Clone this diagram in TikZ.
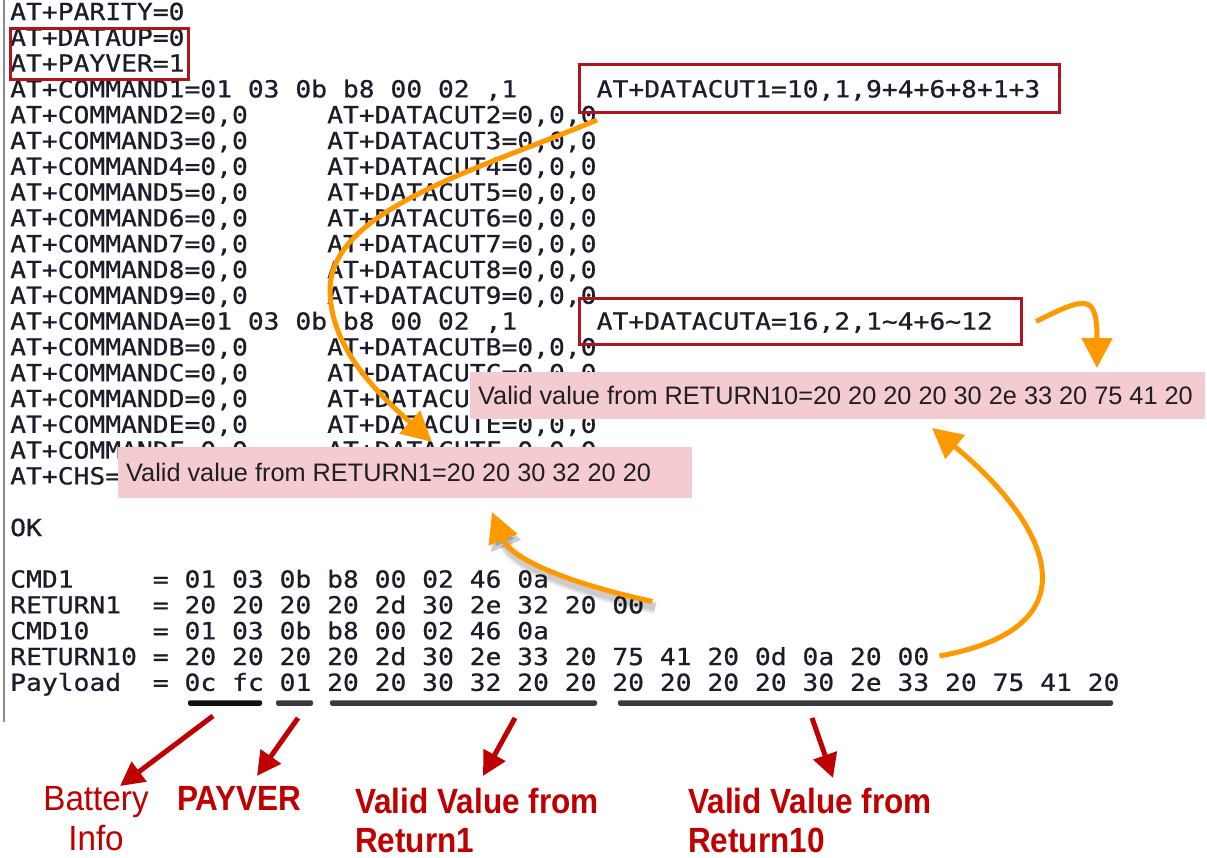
\documentclass[tikz,border=0pt]{standalone}
\usepackage{fontspec}
\usetikzlibrary{arrows.meta}
\newfontfamily\termfont[FakeStretch=1.12,FakeBold=0.7]{DejaVu Sans Mono}
\newfontfamily\notefont{Liberation Sans}
\newfontfamily\tagfont[FakeStretch=0.9]{Liberation Sans}
\newfontfamily\tagplainfont[FakeStretch=0.95]{Liberation Sans}
\definecolor{ink}{HTML}{1C1C2A}
\definecolor{boxred}{HTML}{B0141C}
\definecolor{pinkfill}{HTML}{F3CBD0}
\definecolor{flowor}{HTML}{FF9900}
\definecolor{tagred}{HTML}{C00000}
\definecolor{edgegray}{HTML}{8A8A8A}
\definecolor{barblack}{HTML}{111111}
\definecolor{bargray}{HTML}{3A3A3A}
\begin{document}
\begin{tikzpicture}[x=1pt,y=-1pt,
  term/.style={font={\termfont\fontsize{23.5}{25.8}\selectfont}, text=ink, anchor=base west, inner sep=0pt},
  note/.style={font={\notefont\fontsize{25.3}{28}\selectfont}, text=black!88, anchor=west, inner sep=0pt},
  notebox/.style={fill=pinkfill, draw=none, inner sep=0pt, anchor=north west},
  hilite/.style={draw=boxred, line width=3pt, inner sep=0pt, anchor=north west},
  tag/.style={font={\tagfont\bfseries\fontsize{35}{38.5}\selectfont}, text=tagred, inner sep=0pt},
  plaintag/.style={font={\tagplainfont\fontsize{35}{40}\selectfont}, text=tagred, inner sep=0pt},
  bar/.style={minimum height=5.5pt, inner sep=0pt, rounded corners=2pt},
  flow/.style={draw=flowor, line width=5pt, -{Triangle[length=30pt,width=30pt]}},
  flowshade/.style={draw=black, line width=#1, opacity=0.07, -{Triangle[length=30pt,width=30pt]}},
  pointer/.style={draw=tagred, line width=5pt, -{Triangle[length=24pt,width=24pt]}}]
\useasboundingbox[fill=white] (0,0) rectangle (1207,857);

% left edge of the terminal window
\draw[edgegray, line width=2pt] (3.5,0) -- (3.5,722);

% configuration listing
\node[term] (p0) at (10,20) {AT+PARITY=0};
\node[term] (p1) at (10,45.8) {AT+DATAUP=0};
\node[term] (p2) at (10,71.6) {AT+PAYVER=1};
\node[term] (c1) at (10,97.4) {AT+COMMAND1=01 03 0b b8 00 02 ,1};
\node[term] (d1) at (596.5,97.4) {AT+DATACUT1=10,1,9+4+6+8+1+3};
\node[term] (c2) at (10,123.2) {AT+COMMAND2=0,0};
\node[term] (d2) at (327,123.2) {AT+DATACUT2=0,0,0};
\node[term] (c3) at (10,149) {AT+COMMAND3=0,0};
\node[term] (d3) at (327,149) {AT+DATACUT3=0,0,0};
\node[term] (c4) at (10,174.8) {AT+COMMAND4=0,0};
\node[term] (d4) at (327,174.8) {AT+DATACUT4=0,0,0};
\node[term] (c5) at (10,200.6) {AT+COMMAND5=0,0};
\node[term] (d5) at (327,200.6) {AT+DATACUT5=0,0,0};
\node[term] (c6) at (10,226.4) {AT+COMMAND6=0,0};
\node[term] (d6) at (327,226.4) {AT+DATACUT6=0,0,0};
\node[term] (c7) at (10,252.2) {AT+COMMAND7=0,0};
\node[term] (d7) at (327,252.2) {AT+DATACUT7=0,0,0};
\node[term] (c8) at (10,278) {AT+COMMAND8=0,0};
\node[term] (d8) at (327,278) {AT+DATACUT8=0,0,0};
\node[term] (c9) at (10,303.8) {AT+COMMAND9=0,0};
\node[term] (d9) at (327,303.8) {AT+DATACUT9=0,0,0};
\node[term] (cA) at (10,329.6) {AT+COMMANDA=01 03 0b b8 00 02 ,1};
\node[term] (dA) at (596.5,329.6) {AT+DATACUTA=16,2,1\textasciitilde4+6\textasciitilde12};
\node[term] (cB) at (10,355.4) {AT+COMMANDB=0,0};
\node[term] (dB) at (327,355.4) {AT+DATACUTB=0,0,0};
\node[term] (cC) at (10,381.2) {AT+COMMANDC=0,0};
\node[term] (dC) at (327,381.2) {AT+DATACUTC=0,0,0};
\node[term] (cD) at (10,407) {AT+COMMANDD=0,0};
\node[term] (dD) at (327,407) {AT+DATACUTD=0,0,0};
\node[term] (cE) at (10,432.8) {AT+COMMANDE=0,0};
\node[term] (dE) at (327,432.8) {AT+DATACUTE=0,0,0};
\node[term] (cF) at (10,458.6) {AT+COMMANDF=0,0};
\node[term] (dF) at (327,458.6) {AT+DATACUTF=0,0,0};
\node[term] (chs) at (10,484.4) {AT+CHS=};
\node[term] (ok) at (10,536) {OK};

% frames on the bottom dump
\node[term] (k1) at (10,587.6) {CMD1};
\node[term] at (152.65,587.6) {=};
\node[term] (k1v) at (184.35,587.6) {01 03 0b b8 00 02 46 0a};
\node[term] (r1) at (10,613.4) {RETURN1};
\node[term] at (152.65,613.4) {=};
\node[term] (r1v) at (184.35,613.4) {20 20 20 20 2d 30 2e 32 20 00};
\node[term] (k10) at (10,639.2) {CMD10};
\node[term] at (152.65,639.2) {=};
\node[term] (k10v) at (184.35,639.2) {01 03 0b b8 00 02 46 0a};
\node[term] (r10) at (10,665) {RETURN10};
\node[term] at (152.65,665) {=};
\node[term] (r10v) at (184.35,665) {20 20 20 20 2d 30 2e 33 20 75 41 20 0d 0a 20 00};
\node[term] (pl) at (10,690.8) {Payload};
\node[term] at (152.65,690.8) {=};
\node[term] (plv) at (184.35,690.8) {0c fc 01 20 20 30 32 20 20 20 20 20 20 30 2e 33 20 75 41 20};

% extracted values
\node[notebox, minimum width=735pt, minimum height=47pt] (v10) at (470,372) {};
\node[note] (v10t) at ([xshift=8pt]v10.west) {Valid value from RETURN10=20 20 20 20 30 2e 33 20 75 41 20};
\node[notebox, minimum width=574pt, minimum height=51pt] (v1) at (118,447) {};
\node[note] (v1t) at ([xshift=8pt]v1.west) {Valid value from RETURN1=20 20 30 32 20 20};

% highlighted settings
\node[hilite, minimum width=178pt, minimum height=51pt] (upbox) at (9,27) {};
\node[hilite, minimum width=480pt, minimum height=48pt] (dc1box) at (578,63) {};
\node[hilite, minimum width=442pt, minimum height=46pt] (dcAbox) at (578,297) {};

% payload field markers
\node[bar, fill=barblack, minimum width=74pt] (bar1) at (225,703) {};
\node[bar, fill=bargray, minimum width=37pt] (bar2) at (294.5,703) {};
\node[bar, fill=bargray, minimum width=267pt] (bar3) at (463.5,703) {};
\node[bar, fill=bargray, minimum width=495pt] (bar4) at (865.5,703) {};

% flow arrows
\coordinate (bendA) at (330,290);
\coordinate (tipA) at (432,442);
\coordinate (tipB) at (1097,368);
\coordinate (tipC) at (932,428);
\coordinate (tipD) at (492,512);
\draw[flow] ([xshift=19pt,yshift=-6pt]dc1box.south west) .. controls +(-120,50) and +(0,-80) .. (bendA)
  .. controls +(0,60) and +(-50,-45) .. (tipA);
\draw[flow] ([xshift=13pt]dcAbox.east) .. controls +(50,-25) and +(0,-75) .. (tipB);
\draw[flow] ([xshift=10pt,yshift=9pt]r10v.base east) .. controls +(165,-30) and +(110,90) .. (tipC);
% soft shadow under the RETURN1 arrow
\foreach \w in {13pt,10pt,7pt}
  \draw[flowshade=\w, transform canvas={shift={(3pt,-6pt)}}] ([xshift=8pt,yshift=12pt]r1v.base east) .. controls +(-70,-15) and +(20,50) .. (tipD);
\draw[flow] ([xshift=8pt,yshift=12pt]r1v.base east) .. controls +(-70,-15) and +(20,50) .. (tipD);

% field labels
\node[plaintag, align=center, anchor=north] (lbBatt) at (96,786) {Battery\\Info};
\node[tag, anchor=north west] (lbPay) at (177,786) {PAYVER};
\node[tag, align=left, anchor=north west] (lbR1) at (355,788) {Valid Value from\\Return1};
\node[tag, align=left, anchor=north west] (lbR10) at (688,788) {Valid Value from\\Return10};
\coordinate (tip1) at (120,786);
\coordinate (tip2) at (257,776);
\coordinate (tip3) at (483,776);
\coordinate (tip4) at (833,778);
\draw[pointer] ([xshift=-12pt,yshift=-10pt]bar1.south) -- (tip1);
\draw[pointer] ([xshift=3.5pt,yshift=-12pt]bar2.south) -- (tip2);
\draw[pointer] ([xshift=51.5pt,yshift=-12pt]bar3.south) -- (tip3);
\draw[pointer] ([xshift=-53.5pt,yshift=-12pt]bar4.south) -- (tip4);
\end{tikzpicture}
\end{document}
